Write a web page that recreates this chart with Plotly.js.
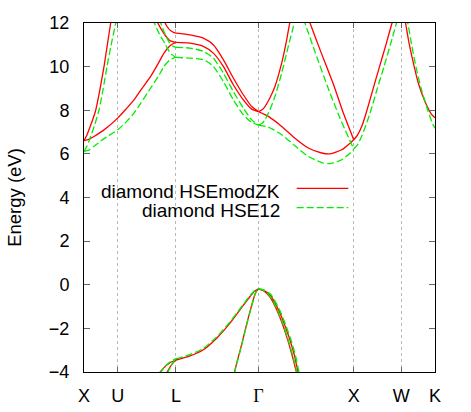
<!DOCTYPE html>
<html>
<head>
<meta charset="utf-8">
<script src="https://cdn.plot.ly/plotly-3.0.1.min.js"></script>
<style>html,body{margin:0;padding:0;background:#fff;}</style>
</head>
<body>
<div id="chart" style="width:471px;height:412px;"></div>
<script>
// High-symmetry points along the k-path
const kTicks = [0, 0.3536, 0.9659, 1.8319, 2.8319, 3.3319, 3.6855];
const kLabels = ['X', 'U', 'L', '<span style="font-family:\'Liberation Serif\',serif">Γ</span>', 'X', 'W', 'K'];
const eTicks = [-4, -2, 0, 2, 4, 6, 8, 10, 12];
const seriesNames = ['diamond HSEmodZK', 'diamond HSE12'];

// ---- diamond HSEmodZK (red) ----
const rXU1_k = [0, 0.03, 0.06, 0.09, 0.123, 0.165, 0.21, 0.245, 0.28, 0.29];
const rXU1_E = [6.61, 6.85, 7.2, 7.55, 8.0, 8.9, 10.0, 11.0, 12.0, 12.3];
const rXUL_k = [0, 0.05, 0.105, 0.21, 0.3536, 0.45, 0.525, 0.6, 0.7, 0.78, 0.84, 0.9, 0.945, 0.966];
const rXUL_E = [6.61, 6.66, 6.8, 7.1, 7.64, 8.1, 8.48, 8.95, 9.55, 10.15, 10.62, 10.95, 11.07, 11.11];
const rL1_k = [0.75, 0.8, 0.85, 0.9, 0.966];
const rL1_E = [12.2, 11.8, 11.45, 11.2, 11.11];
const rL2_k = [0.83, 0.87, 0.91, 0.94, 0.966];
const rL2_E = [12.2, 11.85, 11.64, 11.57, 11.54];
const rLG_k = [0.966, 1.113, 1.253, 1.358, 1.463, 1.568, 1.673, 1.761, 1.832];
const rLG1_E = [11.54, 11.46, 11.31, 11.0, 10.32, 9.48, 8.71, 8.17, 7.94];
const rLG2_E = [11.11, 11.08, 10.93, 10.62, 10.01, 9.17, 8.48, 8.05, 7.94];
const rGX1_k = [1.832, 1.87, 1.9, 1.95, 2.005, 2.076, 2.128, 2.16, 2.173];
const rGX1_E = [7.94, 8.02, 8.17, 8.55, 9.09, 10.17, 11.23, 12.0, 12.3];
const rGX2_k = [2.355, 2.373, 2.478, 2.618, 2.723, 2.832];
const rGX2_E = [12.2, 12.0, 10.78, 9.2, 7.87, 6.65];
const rGX3_k = [1.832, 1.935, 2.076, 2.215, 2.355, 2.496, 2.583, 2.706, 2.79, 2.832];
const rGX3_E = [7.94, 7.72, 7.26, 6.72, 6.27, 6.04, 6.0, 6.19, 6.48, 6.65];
const rXW_k = [2.832, 2.87, 2.92, 2.961, 3.03, 3.103, 3.17, 3.234, 3.25];
const rXW_E = [6.65, 6.85, 7.3, 7.85, 8.9, 10.0, 11.0, 12.0, 12.25];
const rWK_k = [3.365, 3.376, 3.41, 3.458, 3.51, 3.58, 3.651, 3.6855];
const rWK_E = [12.25, 12.0, 11.15, 10.17, 9.25, 8.4, 7.8, 7.66];
// valence
const rvLG_k = [0.966, 1.113, 1.253, 1.393, 1.533, 1.638, 1.743, 1.79, 1.832];
const rvLG_E = [-3.45, -3.26, -2.98, -2.45, -1.76, -1.15, -0.54, -0.3, -0.2];
const rvL1_k = [0.78, 0.84, 0.9, 0.966];
const rvL1_E = [-4.1, -3.8, -3.58, -3.45];
const rvL2_k = [0.86, 0.9, 0.935, 0.966];
const rvL2_E = [-4.1, -3.8, -3.58, -3.45];
const rvGL_k = [1.575, 1.6, 1.64, 1.68, 1.72, 1.76, 1.79, 1.81, 1.832];
const rvGL_E = [-4.1, -3.65, -3.0, -2.3, -1.6, -0.95, -0.5, -0.3, -0.2];
const rvGX1_k = [1.832, 1.875, 1.918, 1.97, 2.023, 2.075, 2.128, 2.18, 2.233, 2.24];
const rvGX1_E = [-0.2, -0.25, -0.39, -0.68, -1.15, -1.7, -2.38, -3.15, -4.06, -4.2];
const rvGX2_k = [1.832, 1.89, 1.953, 2.005, 2.058, 2.11, 2.163, 2.21, 2.25, 2.26];
const rvGX2_E = [-0.2, -0.27, -0.46, -0.83, -1.3, -1.88, -2.53, -3.25, -4.06, -4.25];

// ---- diamond HSE12 (green) ----
const gXU1_k = [0, 0.03, 0.07, 0.11, 0.157, 0.2, 0.241, 0.29, 0.333, 0.345];
const gXU1_E = [6.11, 6.35, 6.8, 7.3, 8.0, 8.95, 10.0, 11.1, 12.0, 12.3];
const gXUL_k = [0, 0.05, 0.105, 0.21, 0.3536, 0.45, 0.525, 0.6, 0.7, 0.78, 0.84, 0.9, 0.945, 0.966];
const gXUL_E = [6.11, 6.17, 6.35, 6.7, 7.1, 7.5, 7.87, 8.35, 9.02, 9.55, 10.01, 10.3, 10.4, 10.42];
const gL1_k = [0.72, 0.78, 0.85, 0.91, 0.966];
const gL1_E = [12.2, 11.6, 11.05, 10.6, 10.42];
const gL2_k = [0.79, 0.84, 0.89, 0.93, 0.966];
const gL2_E = [12.2, 11.6, 11.15, 10.95, 10.88];
const gLG_k = [0.966, 1.113, 1.253, 1.358, 1.463, 1.568, 1.673, 1.761, 1.832];
const gLG1_E = [10.88, 10.85, 10.7, 10.39, 9.71, 8.86, 8.1, 7.56, 7.32];
const gLG2_E = [10.42, 10.39, 10.32, 10.01, 9.32, 8.48, 7.79, 7.44, 7.32];
const gGX1_k = [1.832, 1.87, 1.9, 1.95, 2.005, 2.076, 2.145, 2.208, 2.22];
const gGX1_E = [7.32, 7.4, 7.56, 8.0, 8.63, 9.71, 10.93, 12.0, 12.25];
const gGX2_k = [2.305, 2.32, 2.43, 2.57, 2.68, 2.832];
const gGX2_E = [12.2, 12.0, 10.62, 8.94, 7.72, 6.22];
const gGX3_k = [1.832, 1.935, 2.076, 2.215, 2.355, 2.496, 2.583, 2.706, 2.79, 2.832];
const gGX3_E = [7.32, 7.23, 6.88, 6.37, 5.88, 5.6, 5.55, 5.73, 6.02, 6.22];
const gXW_k = [2.832, 2.87, 2.92, 2.975, 3.013, 3.08, 3.15, 3.22, 3.281, 3.295];
const gXW_E = [6.22, 6.4, 6.85, 7.5, 8.0, 9.0, 10.0, 11.05, 12.0, 12.25];
const gWK_k = [3.385, 3.4, 3.44, 3.49, 3.54, 3.61, 3.66, 3.6855];
const gWK_E = [12.25, 12.0, 11.0, 9.9, 9.0, 8.0, 7.38, 7.18];
// valence
const gvLG_k = [0.966, 1.113, 1.253, 1.393, 1.533, 1.638, 1.743, 1.79, 1.832];
const gvLG_E = [-3.39, -3.2, -2.92, -2.39, -1.7, -1.1, -0.5, -0.28, -0.18];
const gvL1_k = [0.79, 0.85, 0.91, 0.966];
const gvL1_E = [-4.1, -3.75, -3.52, -3.39];
const gvL2_k = [0.87, 0.91, 0.94, 0.966];
const gvL2_E = [-4.1, -3.75, -3.52, -3.39];
const gvGL_k = [1.577, 1.602, 1.642, 1.682, 1.722, 1.762, 1.791, 1.81, 1.832];
const gvGL_E = [-4.1, -3.65, -3.0, -2.3, -1.6, -0.95, -0.5, -0.29, -0.18];
const gvGX1_k = [1.832, 1.88, 1.923, 1.975, 2.028, 2.08, 2.133, 2.185, 2.238, 2.245];
const gvGX1_E = [-0.18, -0.24, -0.38, -0.67, -1.14, -1.69, -2.37, -3.14, -4.06, -4.2];
const gvGX2_k = [1.832, 1.9, 1.963, 2.015, 2.068, 2.12, 2.173, 2.22, 2.26, 2.27];
const gvGX2_E = [-0.18, -0.26, -0.45, -0.82, -1.29, -1.87, -2.52, -3.24, -4.06, -4.25];

const redBands = [
  [rXU1_k, rXU1_E], [rXUL_k, rXUL_E], [rL1_k, rL1_E], [rL2_k, rL2_E],
  [rLG_k, rLG1_E], [rLG_k, rLG2_E], [rGX1_k, rGX1_E], [rGX2_k, rGX2_E],
  [rGX3_k, rGX3_E], [rXW_k, rXW_E], [rWK_k, rWK_E],
  [rvLG_k, rvLG_E], [rvL1_k, rvL1_E], [rvL2_k, rvL2_E], [rvGL_k, rvGL_E],
  [rvGX1_k, rvGX1_E], [rvGX2_k, rvGX2_E]
];
const greenBands = [
  [gXU1_k, gXU1_E], [gXUL_k, gXUL_E], [gL1_k, gL1_E], [gL2_k, gL2_E],
  [gLG_k, gLG1_E], [gLG_k, gLG2_E], [gGX1_k, gGX1_E], [gGX2_k, gGX2_E],
  [gGX3_k, gGX3_E], [gXW_k, gXW_E], [gWK_k, gWK_E],
  [gvLG_k, gvLG_E], [gvL1_k, gvL1_E], [gvL2_k, gvL2_E], [gvGL_k, gvGL_E],
  [gvGX1_k, gvGX1_E], [gvGX2_k, gvGX2_E]
];

const RED = '#ff0000', GREEN = '#00ee00';
const traces = [];
redBands.forEach(b => traces.push({
  x: b[0], y: b[1], type: 'scatter', mode: 'lines', name: seriesNames[0],
  line: {color: RED, width: 1.3, shape: 'spline', smoothing: 0.6}, hoverinfo: 'skip'
}));
greenBands.forEach(b => traces.push({
  x: b[0], y: b[1], type: 'scatter', mode: 'lines', name: seriesNames[1],
  line: {color: GREEN, width: 1.3, dash: '7px,3px', shape: 'spline', smoothing: 0.6}, hoverinfo: 'skip'
}));

const layout = {
  width: 471, height: 412,
  margin: {l: 84, r: 36, t: 23, b: 40, pad: 0},
  paper_bgcolor: '#fff', plot_bgcolor: '#fff',
  showlegend: false,
  font: {family: '"Liberation Sans", Arial, sans-serif', size: 18, color: '#000'},
  xaxis: {
    range: [0, 3.6855], tickmode: 'array', tickvals: kTicks, ticktext: kLabels,
    ticks: 'inside', ticklen: 5, tickcolor: '#666', tickwidth: 1,
    showline: true, linecolor: '#000', linewidth: 1, mirror: 'ticks',
    showgrid: true, gridcolor: '#b8b8b8', griddash: 'dot', gridwidth: 1,
    zeroline: false, ticklabelstandoff: 7, tickfont: {size: 18}, fixedrange: true
  },
  yaxis: {
    range: [-4, 12], tickmode: 'array', tickvals: eTicks,
    ticks: 'inside', ticklen: 6, tickcolor: '#666', tickwidth: 1,
    showline: true, linecolor: '#000', linewidth: 1, mirror: 'ticks',
    showgrid: false, zeroline: false, ticklabelstandoff: 10, tickfont: {size: 18},
    title: {text: 'Energy (eV)', font: {size: 18.5}, standoff: 22}, fixedrange: true
  },
  shapes: [
    {type: 'rect', xref: 'paper', yref: 'paper', x0: 0.023, x1: 0.781, y0: 0.444, y1: 0.590,
     fillcolor: '#fff', line: {width: 0}, layer: 'between'},
    {type: 'line', xref: 'paper', yref: 'paper', x0: 0.606, x1: 0.753, y0: 0.526, y1: 0.526,
     line: {color: RED, width: 1.3}},
    {type: 'line', xref: 'paper', yref: 'paper', x0: 0.606, x1: 0.753, y0: 0.471, y1: 0.471,
     line: {color: GREEN, width: 1.3, dash: '7px,3px'}}
  ],
  annotations: [
    {xref: 'paper', yref: 'paper', x: 0.563, y: 0.518, xanchor: 'right', yanchor: 'middle',
     text: seriesNames[0], showarrow: false, font: {size: 19}},
    {xref: 'paper', yref: 'paper', x: 0.563, y: 0.463, xanchor: 'right', yanchor: 'middle',
     text: seriesNames[1], showarrow: false, font: {size: 19}}
  ]
};

Plotly.newPlot('chart', traces, layout, {staticPlot: true, displayModeBar: false});
</script>
</body>
</html>
